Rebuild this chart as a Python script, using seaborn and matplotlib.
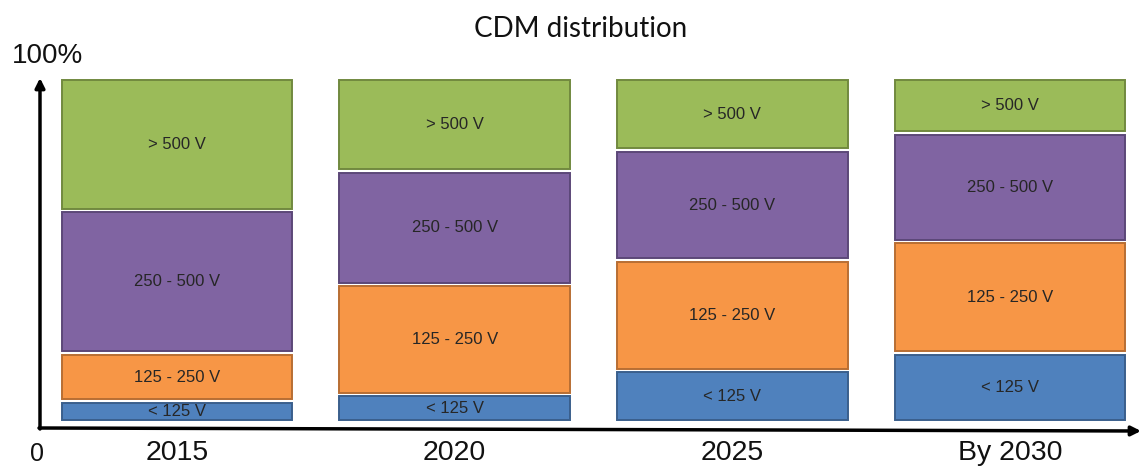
import matplotlib
matplotlib.use("Agg")
import matplotlib.pyplot as plt
import seaborn as sns
import numpy as np

# ---- data ----
years = ["2015", "2020", "2025", "By 2030"]
series_names = ["< 125 V", "125 - 250 V", "250 - 500 V", "> 500 V"]
below_125 = [6, 8, 15, 20]
from_125_to_250 = [14, 32, 32, 32.5]
from_250_to_500 = [41.5, 33, 32, 31.5]
above_500 = [38.5, 27, 21, 16]

fills = ["#4F81BD", "#F79646", "#8064A2", "#9BBB59"]
edges = ["#3A5F8C", "#B86E33", "#5C4878", "#71893F"]

W, H = 1141, 467
fig = plt.figure(figsize=(W / 100, H / 100), dpi=100)
ax = fig.add_axes([0, 0, 1, 1])

def fx(x, y):
    return (x / W, 1 - y / H)

bottom = np.zeros(len(years))
gap = 0.55
for name, vals, fc, ec in zip(series_names,
                              [below_125, from_125_to_250, from_250_to_500, above_500],
                              fills, edges):
    vals = np.array(vals, dtype=float)
    sns.barplot(x=years, y=vals, order=years, bottom=bottom, color=fc,
                saturation=1, width=0.83, edgecolor=ec, linewidth=1.4, ax=ax)
    cont = ax.containers[-1]
    for p in cont.patches:
        p.set_y(p.get_y() + gap)
        p.set_height(p.get_height() - 2 * gap)
    ax.bar_label(cont, labels=[name] * len(years), label_type="center",
                 fontsize=12, color="#262626", family="Liberation Sans")
    bottom = bottom + vals

# mapping to reference pixels
x0, dx = 177, 277.7
y0, dy = 422, 3.44
ax.set_xlim(-x0 / dx, (W - x0) / dx)
ax.set_ylim((y0 - H) / dy, y0 / dy)
ax.axis("off")

# axes arrows
ax.annotate("", xy=fx(40, 78), xytext=fx(40, 429), xycoords="figure fraction",
            textcoords="figure fraction",
            arrowprops=dict(arrowstyle="-|>", lw=2.5, color="black", mutation_scale=14,
                            shrinkA=0, shrinkB=0))
ax.annotate("", xy=fx(1141, 431), xytext=fx(39, 428), xycoords="figure fraction",
            textcoords="figure fraction",
            arrowprops=dict(arrowstyle="-|>", lw=2.5, color="black", mutation_scale=14,
                            shrinkA=0, shrinkB=0))

# year labels
for i, y in enumerate(years):
    fig.text((x0 + dx * i) / W, 1 - 460 / H, y, ha="center", va="baseline",
             fontsize=20.5, family="Liberation Sans", color="#111111")

fig.text(*fx(47, 63), "100%", ha="center", va="baseline", fontsize=20,
         family="Liberation Sans", color="#111111")
fig.text(*fx(37, 461), "0", ha="center", va="baseline", fontsize=18,
         family="Liberation Sans", color="#111111")
fig.text(*fx(581, 37), "CDM distribution", ha="center", va="baseline", fontsize=20,
         family="Lato", color="#111111")

fig.savefig("out.png", dpi=100)
